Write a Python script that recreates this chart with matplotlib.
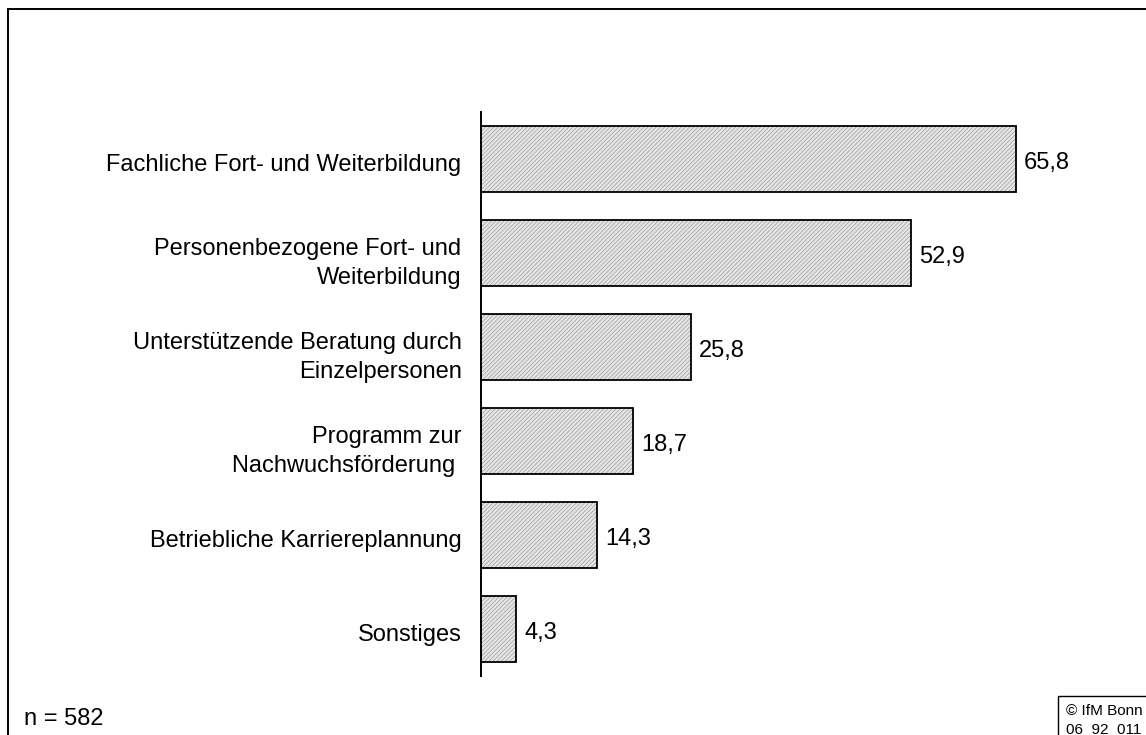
import matplotlib
matplotlib.use("Agg")
import matplotlib.pyplot as plt
from matplotlib.patches import Rectangle
from matplotlib.transforms import ScaledTranslation

plt.rcParams["font.family"] = ["Liberation Sans", "DejaVu Sans"]
plt.rcParams["hatch.linewidth"] = 0.5

categories = [
    "Fachliche Fort- und Weiterbildung",
    "Personenbezogene Fort- und\nWeiterbildung",
    "Unterstützende Beratung durch\nEinzelpersonen",
    "Programm zur\nNachwuchsförderung ",
    "Betriebliche Karriereplannung",
    "Sonstiges",
]
values = [65.8, 52.9, 25.8, 18.7, 14.3, 4.3]
value_labels = ["65,8", "52,9", "25,8", "18,7", "14,3", "4,3"]

FS = 17
W, H = 1146, 735
fig = plt.figure(figsize=(W / 100, H / 100), dpi=100)

# outer frame (runs off the right and bottom edges)
fig.add_artist(Rectangle((8 / W, -0.05), 1.1, 1 - 9 / H + 0.05, transform=fig.transFigure,
                         fill=False, edgecolor="black", linewidth=1.4))

ax_left, ax_right = 481 / W, 1131 / W
ax_top, ax_bottom = 1 - 112 / H, 1 - 676 / H
ax = fig.add_axes([ax_left, ax_bottom, ax_right - ax_left, ax_top - ax_bottom])

y = list(range(len(categories)))
# grey hatch fill, then a black outline on top
ax.barh(y, values, height=0.7, color="#e6e6e6", edgecolor="#9c9c9c",
        linewidth=0, hatch="////////")
ax.barh(y, values, height=0.7, fill=False, edgecolor="black", linewidth=1.3)
ax.set_ylim(len(categories) - 0.5, -0.5)
ax.set_xlim(0, 80)

ax.set_yticks(y)
ax.set_yticklabels(categories, fontsize=FS, linespacing=1.45)
ax.tick_params(axis="y", length=0, pad=14)
down = ScaledTranslation(0, -4 / 100, fig.dpi_scale_trans)
for t in ax.get_yticklabels():
    t.set_transform(t.get_transform() + down)
ax.set_xticks([])
for side in ["top", "right", "bottom"]:
    ax.spines[side].set_visible(False)
ax.spines["left"].set_linewidth(1.4)

for yi, v, lab in zip(y, values, value_labels):
    ax.text(v + 1.0, yi, lab, va="center", ha="left", fontsize=FS,
            transform=ax.transData + down)

fig.text(24 / W, 1 - 719 / H, "n = 582", fontsize=FS, va="center", ha="left")

# copyright box
fig.add_artist(Rectangle((1058 / W, -0.05), 0.2, (735 - 696) / H + 0.05,
                         transform=fig.transFigure, fill=False,
                         edgecolor="black", linewidth=1.0))
fig.text(1066 / W, 1 - 711 / H, "© IfM Bonn", fontsize=11, va="center", ha="left")
fig.text(1066 / W, 1 - 730 / H, "06  92  011", fontsize=11, va="center", ha="left")

fig.savefig("out.png", dpi=100, facecolor="white")
